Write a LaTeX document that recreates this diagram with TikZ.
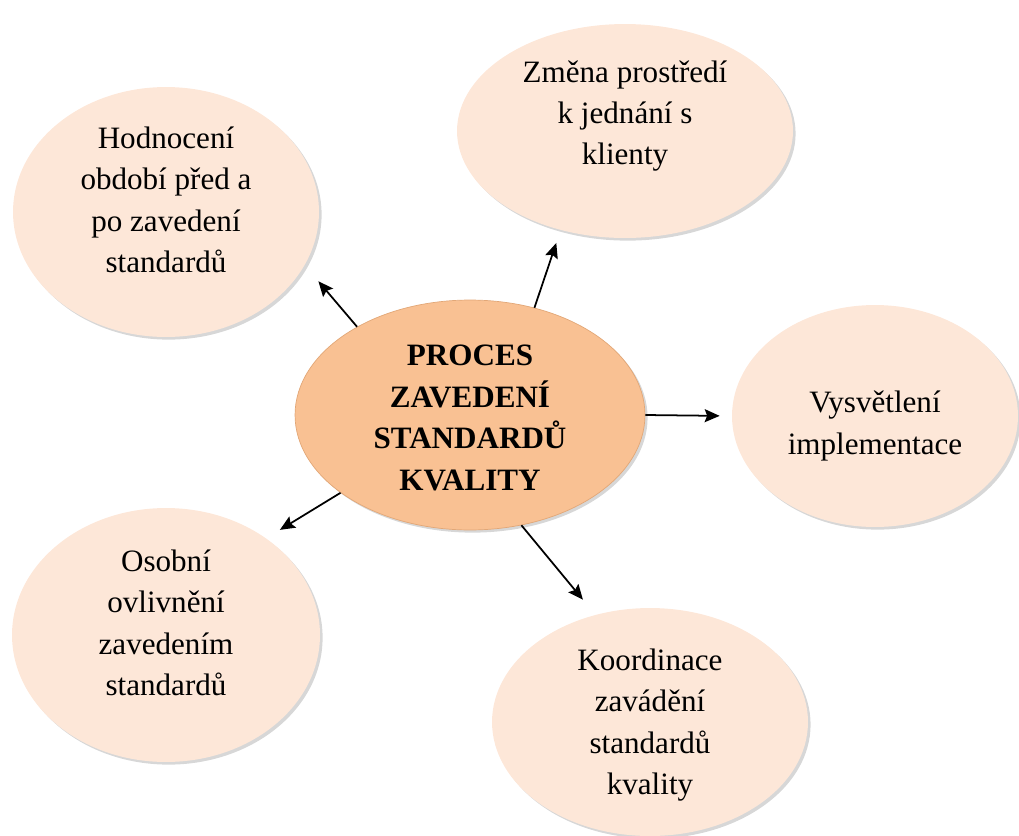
\documentclass[tikz,border=0pt]{standalone}
\usepackage{fontspec}
\setmainfont{Liberation Serif}
\usetikzlibrary{shapes.geometric,arrows.meta,shadows}
\definecolor{svetla}{HTML}{FDE7D8}
\definecolor{stredni}{HTML}{F9C193}
\definecolor{okraj}{HTML}{E2A777}
\begin{document}
\begin{tikzpicture}[x=0.02cm,y=-0.02cm,
	bublina/.style={ellipse,fill=svetla,inner sep=0pt,drop shadow={shadow xshift=1.5pt,shadow yshift=-1.5pt,fill=black!45,opacity=.35}},
	jadro/.style={bublina,fill=stredni,draw=okraj},
	popis/.style={align=center,inner sep=0pt,font=\fontsize{17.7}{23.6}\selectfont},
	hlavni/.style={popis,font=\bfseries\fontsize{17.7}{23.6}\selectfont},
	sipka/.style={-{Stealth[length=3mm,width=2.6mm,inset=.5mm]},line width=1pt}]
		\useasboundingbox (0,0) rectangle (1019,836);
		\node[jadro,minimum width=7cm,minimum height=4.6cm,label={[hlavni,yshift=-.06cm]center:PROCES\\ZAVEDENÍ\\STANDARDŮ\\KVALITY}] (proces) at (470,415) {};
		\node[bublina,minimum width=6.12cm,minimum height=5cm,label={[popis,yshift=.24cm]center:Hodnocení\\období před a\\po zavedení\\standardů}] (hodnoceni) at (166,212) {};
		\node[bublina,minimum width=6.72cm,minimum height=4.28cm,label={[popis,yshift=.3cm]center:Změna prostředí\\k jednání s\\klienty}] (zmena) at (625,131) {};
		\node[bublina,minimum width=5.72cm,minimum height=4.44cm,label={[popis,yshift=-.2cm]center:Vysvětlení\\implementace}] (vysvetleni) at (875,416) {};
		\node[bublina,minimum width=6.16cm,minimum height=5.08cm,label={[popis,yshift=.24cm]center:Osobní\\ovlivnění\\zavedením\\standardů}] (osobni) at (166,635) {};
		\node[bublina,minimum width=6.32cm,minimum height=4.56cm,label={[popis,yshift=-.06cm]center:Koordinace\\zavádění\\standardů\\kvality}] (koordinace) at (650,722) {};
		\draw[sipka,shorten >=0.42cm] (proces.142) -- (hodnoceni.-21);
		\draw[sipka,shorten >=0.27cm] (proces.59) -- (zmena.237);
		\draw[sipka,shorten >=0.24cm] (proces.0) -- (vysvetleni.180);
		\draw[sipka,shorten >=0.32cm] (proces.211) -- (osobni.44);
		\draw[sipka,shorten >=0.39cm] (proces.295) -- (koordinace.117);
	\end{tikzpicture}
\end{document}
